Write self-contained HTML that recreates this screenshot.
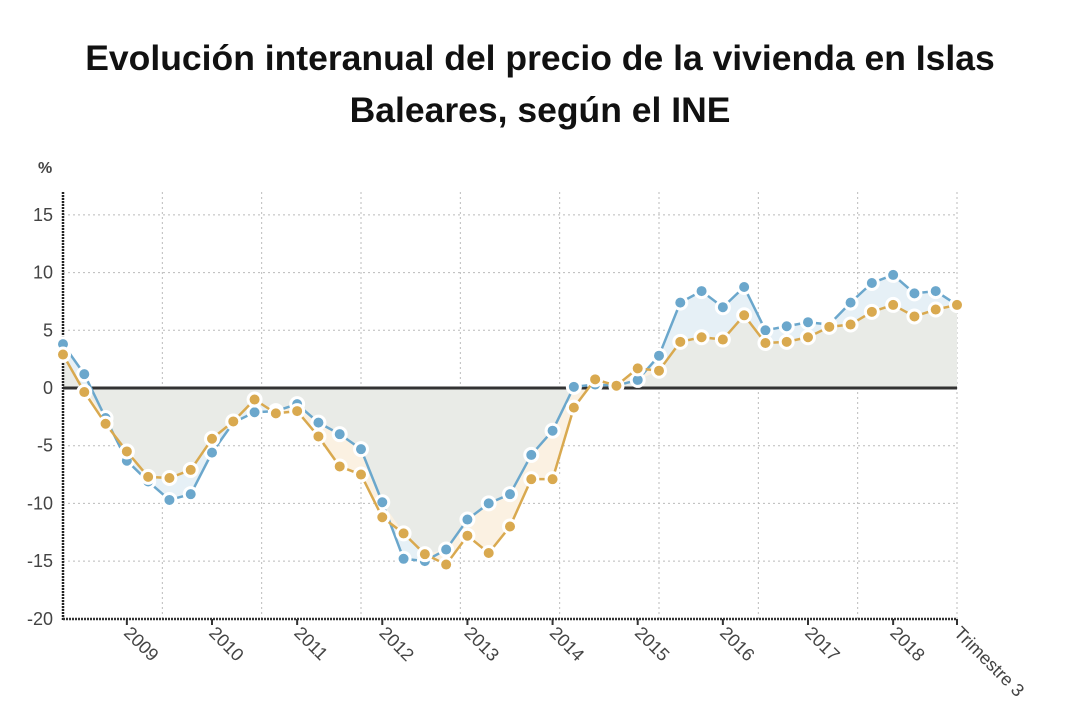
<!DOCTYPE html>
<html><head><meta charset="utf-8"><style>
body{margin:0;background:#fff;width:1080px;height:727px;overflow:hidden;font-family:"Liberation Sans",sans-serif}
#title{position:absolute;left:0;top:32px;width:1080px;text-align:center;font-weight:bold;font-size:35.5px;line-height:52px;color:#111}
svg{position:absolute;left:0;top:0}
</style></head><body>
<div id="title">Evolución interanual del precio de la vivienda en Islas<br>Baleares, según el INE</div>
<svg id="chart" width="1080" height="727"></svg>
<script>
const blueVals=[3.8,1.2,-2.6,-6.3,-8.1,-9.7,-9.2,-5.6,-3.0,-2.1,-2.0,-1.4,-3.0,-4.0,-5.3,-9.9,-14.8,-15.0,-14.0,-11.4,-10.0,-9.2,-5.8,-3.7,0.1,0.3,0.2,0.7,2.8,7.4,8.4,7.0,8.75,5.0,5.35,5.7,5.5,7.4,9.1,9.8,8.2,8.4,7.2];
const orangeVals=[2.9,-0.35,-3.1,-5.5,-7.7,-7.8,-7.1,-4.4,-2.9,-1.0,-2.2,-2.0,-4.2,-6.8,-7.5,-11.2,-12.6,-14.4,-15.3,-12.8,-14.3,-12.0,-7.9,-7.9,-1.7,0.75,0.2,1.7,1.5,4.0,4.4,4.2,6.3,3.9,4.0,4.4,5.3,5.5,6.6,7.2,6.2,6.8,7.2];
const yTicks=[15,10,5,0,-5,-10,-15,-20];
const yearLabels=["2009","2010","2011","2012","2013","2014","2015","2016","2017","2018","Trimestre 3"];
const yearIdx=[3,7,11,15,19,23,27,31,35,39,42];
const NS="http://www.w3.org/2000/svg";
const svg=document.getElementById('chart');
const X0=63,X1=957,Y0=388,YPER=57.7/5;
const n=blueVals.length;
const x=i=>X0+i*(X1-X0)/(n-1);
const y=v=>Y0-v*YPER;
function mk(t,a,p){const e=document.createElementNS(NS,t);for(const k in a)e.setAttribute(k,a[k]);(p||svg).appendChild(e);return e;}
for(let k=0;k<10;k++){const gx=X0+k*(X1-X0)/9;
const g=mk('line',{x1:gx,x2:gx,y1:192,y2:619,stroke:'#bbb','stroke-dasharray':'2,3','stroke-width':1});

}
yTicks.forEach(t=>{
 if(t!==0&&t!==-20){const g=mk('line',{x1:X0,x2:X1,y1:y(t),y2:y(t),stroke:'#bbb','stroke-dasharray':'2,3'});
 
 }
 const tx=mk('text',{x:53,y:y(t)+6,'text-anchor':'end','font-size':18,fill:'#444'});
 tx.textContent=String(t);
 
 
});
const pct=mk('text',{x:38,y:173,'font-size':16,fill:'#444','font-weight':'bold'});pct.textContent='%';


function area(vals,fill,name){let d=`M${x(0)},${Y0}`;vals.forEach((v,i)=>d+=`L${x(i)},${y(v)}`);d+=`L${x(n-1)},${Y0}Z`;
const p=mk('path',{d,fill});}
area(blueVals,'#e6f0f6','blue-area');
area(orangeVals,'#fbf1e2','orange-area');
const common=blueVals.map((b,i)=>{const o=orangeVals[i];if(b*o<=0)return 0;return Math.abs(b)<Math.abs(o)?b:o;});
area(common,'#e9ebe7','common-area');
const za=mk('line',{x1:X0,x2:X1,y1:Y0,y2:Y0,stroke:'#333','stroke-width':3});

const ya=mk('line',{x1:X0,x2:X0,y1:192,y2:620,stroke:'#222','stroke-width':2.5,'stroke-dasharray':'2,1'});

const xa=mk('line',{x1:X0,x2:X1,y1:619,y2:619,stroke:'#333','stroke-width':2.5,'stroke-dasharray':'2,1'});

yearIdx.forEach((ix,j)=>{const tx=x(ix);
 mk('line',{x1:tx,x2:tx,y1:619,y2:625,stroke:'#333','stroke-width':2});
 const t=mk('text',{x:0,y:0,'font-size':18,fill:'#444',transform:`translate(${tx-4},${634}) rotate(45)`});
 t.textContent=yearLabels[j];
 
 
});
function series(vals,col,name){
 const pts=vals.map((v,i)=>`${x(i)},${y(v)}`).join(' ');
 const l=mk('polyline',{points:pts,fill:'none',stroke:col,'stroke-width':2.5,'stroke-linejoin':'round'});
 
 vals.forEach((v,i)=>{const c=mk('circle',{cx:x(i),cy:y(v),r:6.5,fill:col,stroke:'#fff','stroke-width':3});
 
 });
}
series(blueVals,'#6ba7cc','blue-series');
series(orangeVals,'#d9a94f','orange-series');
</script>
</body></html>
